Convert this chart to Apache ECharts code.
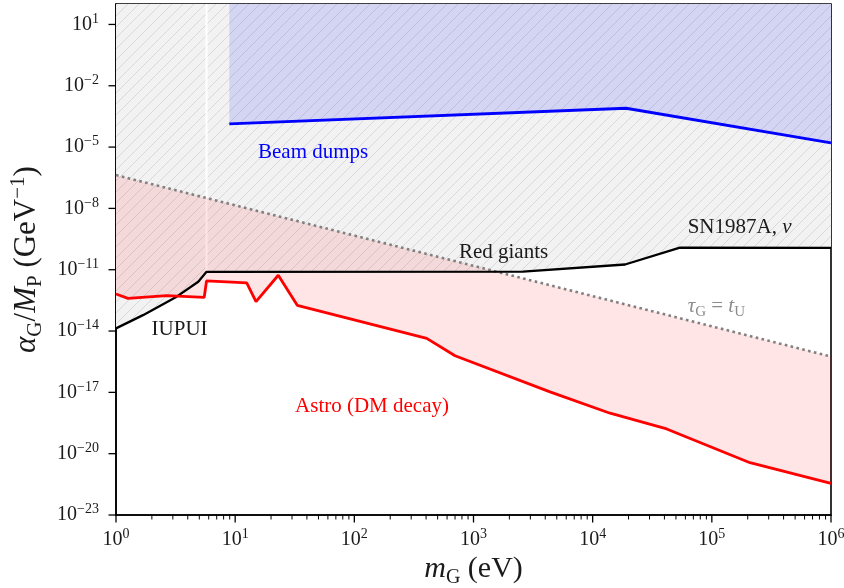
<!DOCTYPE html>
<html><head><meta charset="utf-8">
<script src="https://cdn.jsdelivr.net/npm/echarts@6/dist/echarts.min.js"></script>
<style>html,body{margin:0;padding:0;background:#fff}#c{width:844px;height:588px}</style>
</head><body><div id="c"></div>
<script>
// ---- data (x: m_G in eV, y: alpha_G/M_P in GeV^-1) ----
const xTicks = [1, 10, 100, 1e3, 1e4, 1e5, 1e6];
const yTicks = [1e-23, 1e-20, 1e-17, 1e-14, 1e-11, 1e-8, 1e-5, 1e-2, 1e1];
const xMinorTicks = [];
for (let k = 0; k < 6; k++) for (let j = 2; j <= 9; j++) xMinorTicks.push(j * Math.pow(10, k));

// IUPUI + Red giants + SN1987A boundary (black)
const blackBound = [[1, 1.35e-14], [1.685, 6.0e-14], [3.23, 4.8e-13], [4.9, 2.57e-12], [5.75, 7.9e-12],
  [2600, 8.1e-12], [1.87e4, 1.8e-11], [5.4e4, 1.2e-10], [1e6, 1.17e-10]];
// Astro (DM decay) bound (red)
const astroBound = [[1, 6.46e-13], [1.26, 3.98e-13], [2.66, 5.37e-13], [5.5, 4.47e-13], [5.75, 2.82e-12],
  [12.5, 2.29e-12], [14.96, 2.75e-13], [23.0, 5.37e-12], [33.2, 1.82e-13], [405, 4.37e-15],
  [700, 6.17e-16], [4385, 1.05e-17], [1.40e4, 9.55e-19], [4.18e4, 1.62e-19], [2.09e5, 3.63e-21], [1e6, 3.55e-22]];
// Beam dumps bound (blue)
const beamBound = [[8.93, 1.38e-4], [1.905e4, 7.94e-4], [1e6, 1.62e-5]];
// tau_G = t_U line (dotted)
const lifetimeLine = [[1, 4.27e-7], [1e6, 5.62e-16]];
// gap line at the IUPUI / red-giant junction
const gapLine = [[5.75, 1e2], [5.75, 7.9e-12]];
const yTop = 1e2, yBottom = 1e-23, xLeft = 1;

const FONT = '"Liberation Serif", "DejaVu Serif", serif';
const annotations = [
  {text: '{n|Beam dumps}', x: 15.55, y: 5.75e-6, color: '#0000ff'},
  {text: '{n|Red giants}', x: 755, y: 6.9e-11, color: '#1a1a1a'},
  {text: '{n|SN1987A, }{i|ν}', x: 6.27e4, y: 1.17e-9, color: '#1a1a1a'},
  {text: '{n|IUPUI}', x: 1.99, y: 1.17e-14, color: '#1a1a1a'},
  {text: '{n|Astro (DM decay)}', x: 31.8, y: 2.14e-18, color: '#ff0000'},
  {text: '{i|τ}{s|G}{n| = }{i|t}{s|U}', x: 6.27e4, y: 1.55e-13, color: '#8c8c8c'}
];

// hatch pattern
function makeHatch(bg, line, size) {
  const c = document.createElement('canvas');
  c.width = size; c.height = size;
  const g = c.getContext('2d');
  g.fillStyle = bg; g.fillRect(0, 0, size, size);
  g.strokeStyle = line; g.lineWidth = 1;
  g.beginPath();
  g.moveTo(-1, size + 1); g.lineTo(size + 1, -1);
  g.moveTo(-1, 1); g.lineTo(1, -1);
  g.moveTo(size - 1, size + 1); g.lineTo(size + 1, size - 1);
  g.stroke();
  return c;
}
const hatch = makeHatch('#f2f2f2', '#d9d9d9', 11);

const supRich = {
  b: {fontSize: 20, lineHeight: 25, fontFamily: FONT, color: '#1a1a1a'},
  sup: {fontSize: 14, lineHeight: 14, verticalAlign: 'top', fontFamily: FONT, color: '#1a1a1a'}
};
function powLabel(v) {
  const e = Math.round(Math.log10(v));
  return '{b|10}{sup|' + String(e).replace('-', '−') + '}';
}
const annRich = {
  n: {fontSize: 21, lineHeight: 26, fontFamily: FONT},
  i: {fontSize: 21, lineHeight: 26, fontFamily: FONT, fontStyle: 'italic'},
  s: {fontSize: 15, lineHeight: 15, fontFamily: FONT, verticalAlign: 'bottom'}
};
const nameRich = {
  n: {fontSize: 31, lineHeight: 38, fontFamily: FONT, color: '#1a1a1a'},
  i: {fontSize: 31, lineHeight: 38, fontFamily: FONT, fontStyle: 'italic', color: '#1a1a1a'},
  s: {fontSize: 21, lineHeight: 21, fontFamily: FONT, verticalAlign: 'bottom', color: '#1a1a1a'},
  p: {fontSize: 21, lineHeight: 21, fontFamily: FONT, verticalAlign: 'top', color: '#1a1a1a'}
};
const xNameRich = {
  n: {fontSize: 30, lineHeight: 36, fontFamily: FONT, color: '#1a1a1a'},
  i: {fontSize: 30, lineHeight: 36, fontFamily: FONT, fontStyle: 'italic', color: '#1a1a1a'},
  s: {fontSize: 20, lineHeight: 20, fontFamily: FONT, verticalAlign: 'bottom', color: '#1a1a1a'}
};

const chart = echarts.init(document.getElementById('c'), null, {renderer: 'canvas'});
chart.setOption({
  animation: false,
  backgroundColor: '#ffffff',
  grid: {left: 116, right: 13, top: 4, bottom: 73, show: true, borderColor: '#000', borderWidth: 1.6,
    backgroundColor: 'transparent', outerBoundsMode: 'none', containLabel: false},
  xAxis: {
    type: 'log', logBase: 10, min: 1, max: 1e6, position: 'bottom',
    name: '{i|m}{s|G}{n| (eV)}', nameLocation: 'middle', nameGap: 34,
    nameTextStyle: {rich: xNameRich},
    axisLine: {show: true, lineStyle: {color: '#000', width: 1.6}},
    axisTick: {show: false},
    axisLabel: {show: true, margin: 12, formatter: powLabel, rich: supRich, customValues: xTicks,
      showMinLabel: true, showMaxLabel: true},
    splitLine: {show: false}, minorTick: {show: false}
  },
  yAxis: {
    type: 'log', logBase: 10, min: 1e-23, max: 1e2,
    name: '{i|α}{s|G}{n|/}{i|M}{s|P}{n| (GeV}{p|−1}{n|)}', nameLocation: 'middle', nameRotate: 90, nameGap: 57,
    nameTextStyle: {rich: nameRich},
    axisLine: {show: true, lineStyle: {color: '#000', width: 1.6}},
    axisTick: {show: false},
    axisLabel: {show: true, margin: 17, formatter: powLabel, rich: supRich, customValues: yTicks,
      showMinLabel: true, showMaxLabel: true},
    splitLine: {show: false}
  },
  series: [
    {
      type: 'custom', name: 'regions', clip: true, silent: true, z: 1,
      data: [[10, 1e-5]],
      renderItem: function (params, api) {
        const pc = p => api.coord(p);
        const grayPts = blackBound.map(pc).concat([pc([1e6, yTop]), pc([1, yTop])]);
        const pinkPts = astroBound.map(pc).concat(lifetimeLine.slice().reverse().map(pc));
        const bluePts = beamBound.map(pc).concat([pc([beamBound[beamBound.length - 1][0], yTop]), pc([beamBound[0][0], yTop])]);
        const g0 = pc(gapLine[0]), g1 = pc(gapLine[1]);
        return {type: 'group', children: [
          {type: 'polygon', shape: {points: grayPts}, style: {fill: {image: hatch, repeat: 'repeat'}}},
          {type: 'line', shape: {x1: g0[0], y1: g0[1], x2: g1[0], y2: g1[1]}, style: {stroke: '#ffffff', lineWidth: 2}},
          {type: 'polygon', shape: {points: pinkPts}, style: {fill: 'rgba(255,0,0,0.1)'}},
          {type: 'polygon', shape: {points: bluePts}, style: {fill: 'rgba(0,0,255,0.12)'}}
        ]};
      }
    },
    {type: 'line', name: 'tau', data: lifetimeLine, symbol: 'none', silent: true, z: 3,
      lineStyle: {color: '#808080', width: 2.6, type: [2.6, 3.4], cap: 'butt'}},
    {type: 'line', name: 'black', data: blackBound, symbol: 'none', silent: true, z: 4,
      lineStyle: {color: '#000000', width: 2.3}},
    {type: 'line', name: 'astro', data: astroBound, symbol: 'none', silent: true, z: 4,
      lineStyle: {color: '#ff0000', width: 2.8}},
    {type: 'line', name: 'beam', data: beamBound, symbol: 'none', silent: true, z: 4,
      lineStyle: {color: '#0000ff', width: 2.8}},
    {
      type: 'custom', name: 'labels', silent: true, z: 5,
      data: annotations.map(a => [a.x, a.y]),
      renderItem: function (params, api) {
        const a = annotations[params.dataIndex];
        const p = api.coord([a.x, a.y]);
        const rich = {};
        for (const k in annRich) rich[k] = Object.assign({}, annRich[k], {fill: a.color});
        return {type: 'text', x: p[0], y: p[1],
          style: {text: a.text, fill: a.color, font: '21px ' + FONT, align: 'left', verticalAlign: 'middle', rich: rich}};
      }
    }
  ]
});

// axis ticks (matplotlib-style, outward), placed through the chart's own scales
const tickEls = [];
function px(v) { return chart.convertToPixel({gridIndex: 0}, v); }
xTicks.forEach(v => { const p = px([v, yBottom]);
  tickEls.push({type: 'line', silent: true, z: 100, shape: {x1: p[0], y1: p[1], x2: p[0], y2: p[1] + 7.5}, style: {stroke: '#000', lineWidth: 1.3}}); });
xMinorTicks.forEach(v => { const p = px([v, yBottom]);
  tickEls.push({type: 'line', silent: true, z: 100, shape: {x1: p[0], y1: p[1], x2: p[0], y2: p[1] + 4.5}, style: {stroke: '#000', lineWidth: 1}}); });
yTicks.forEach(v => { const p = px([xLeft, v]);
  tickEls.push({type: 'line', silent: true, z: 100, shape: {x1: p[0] - 7.5, y1: p[1], x2: p[0], y2: p[1]}, style: {stroke: '#000', lineWidth: 1.3}}); });
chart.setOption({graphic: {elements: tickEls}});
</script></body></html>
